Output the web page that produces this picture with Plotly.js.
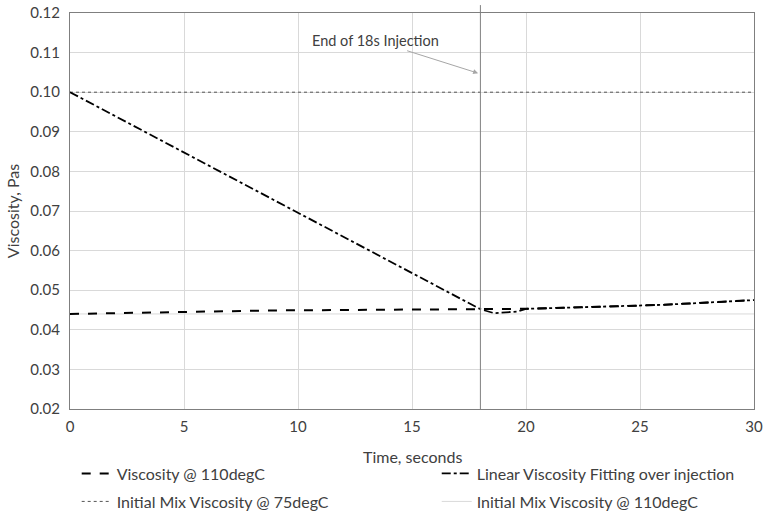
<!DOCTYPE html>
<html><head><meta charset="utf-8">
<script src="https://cdn.plot.ly/plotly-3.0.1.min.js"></script>
<style>html,body{margin:0;padding:0;background:#fff}#c{width:767px;height:515px}</style>
</head><body><div id="c"></div>
<script>
const timeVisc = [0, 3, 6, 9, 12, 15, 18, 20, 22, 24, 26, 28, 30];
const viscosity110 = [0.0440, 0.0443, 0.0447, 0.0449, 0.0450, 0.0451, 0.0452, 0.0453, 0.0456, 0.0459, 0.0463, 0.0469, 0.0475];
const timeFit = [0, 18, 18.6, 19.6, 20, 22, 24, 26, 28, 30];
const linearFit = [0.1000, 0.0452, 0.0442, 0.0446, 0.0453, 0.0456, 0.0459, 0.0463, 0.0469, 0.0475];
const timeRange = [0, 30];
const initMix75 = [0.100, 0.100];
const initMix110 = [0.044, 0.044];
const injectionEnd = 18;
const names = ['Viscosity @ 110degC', 'Linear Viscosity Fitting over injection', 'Initial Mix Viscosity @ 75degC', 'Initial Mix Viscosity @ 110degC'];
const annText = 'End of 18s Injection';
const xTitle = 'Time, seconds';
const yTitle = 'Viscosity, Pas';

const font = 'Lato, "Open Sans", sans-serif';
const traces = [
  {x: timeRange, y: initMix110, name: names[3], legend: 'legend4', mode: 'lines', line: {color: '#d9d9d9', width: 1}},
  {x: timeRange, y: initMix75, name: names[2], legend: 'legend3', mode: 'lines', line: {color: '#555', width: 1, dash: 'dot'}},
  {x: timeVisc, y: viscosity110, name: names[0], legend: 'legend', mode: 'lines', line: {color: '#000', width: 2, dash: 'dash'}},
  {x: timeFit, y: linearFit, name: names[1], legend: 'legend2', mode: 'lines', line: {color: '#000', width: 1.8, dash: 'dashdot'}}
];
function leg(x, y) {
  return {orientation: 'h', xref: 'container', yref: 'container', x: x, xanchor: 'left', y: y, yanchor: 'top',
    itemwidth: 30, font: {size: 16, color: '#404040'}, bgcolor: 'rgba(0,0,0,0)'};
}
const layout = {
  width: 767, height: 515,
  margin: {l: 70, r: 13, t: 13, b: 106},
  paper_bgcolor: '#fff', plot_bgcolor: '#fff',
  font: {family: font, size: 15, color: '#404040'},
  showlegend: true,
  legend: leg(0.1, 0.1136),
  legend2: leg(0.5694, 0.1136),
  legend3: leg(0.1, 0.0592),
  legend4: leg(0.5694, 0.0592),
  xaxis: {range: [0, 30], dtick: 5, tick0: 0, showgrid: true, gridcolor: '#d9d9d9', gridwidth: 1,
    showline: true, linecolor: '#7f7f7f', linewidth: 1, mirror: true, zeroline: false, ticks: '', ticklabelstandoff: 4},
  yaxis: {range: [0.02, 0.12], dtick: 0.01, tick0: 0.02, tickformat: '.2f', showgrid: true, gridcolor: '#d9d9d9',
    showline: true, linecolor: '#7f7f7f', linewidth: 1, mirror: true, zeroline: false, ticks: '', ticklabelstandoff: 6,
    title: {text: yTitle, font: {size: 16, color: '#404040'}, standoff: 6}},
  shapes: [{type: 'line', xref: 'x', yref: 'paper', x0: injectionEnd, x1: injectionEnd, y0: 0, y1: 1.02,
    line: {color: '#808080', width: 1}}],
  annotations: [
    {x: 17.9, y: 0.1048, xref: 'x', yref: 'y', ax: 13.4, ay: 0.1130, axref: 'x', ayref: 'y',
      text: annText, showarrow: true, arrowhead: 2, arrowsize: 1, arrowwidth: 1, arrowcolor: '#a6a6a6',
      font: {size: 14.5, color: '#404040'}, standoff: 0},
    {x: 0.5, y: -0.121, xref: 'paper', yref: 'paper', xanchor: 'center', yanchor: 'middle', showarrow: false,
      text: xTitle, font: {size: 16, color: '#404040'}}
  ]
};
Plotly.newPlot('c', traces, layout, {displayModeBar: false, responsive: false});
</script></body></html>
